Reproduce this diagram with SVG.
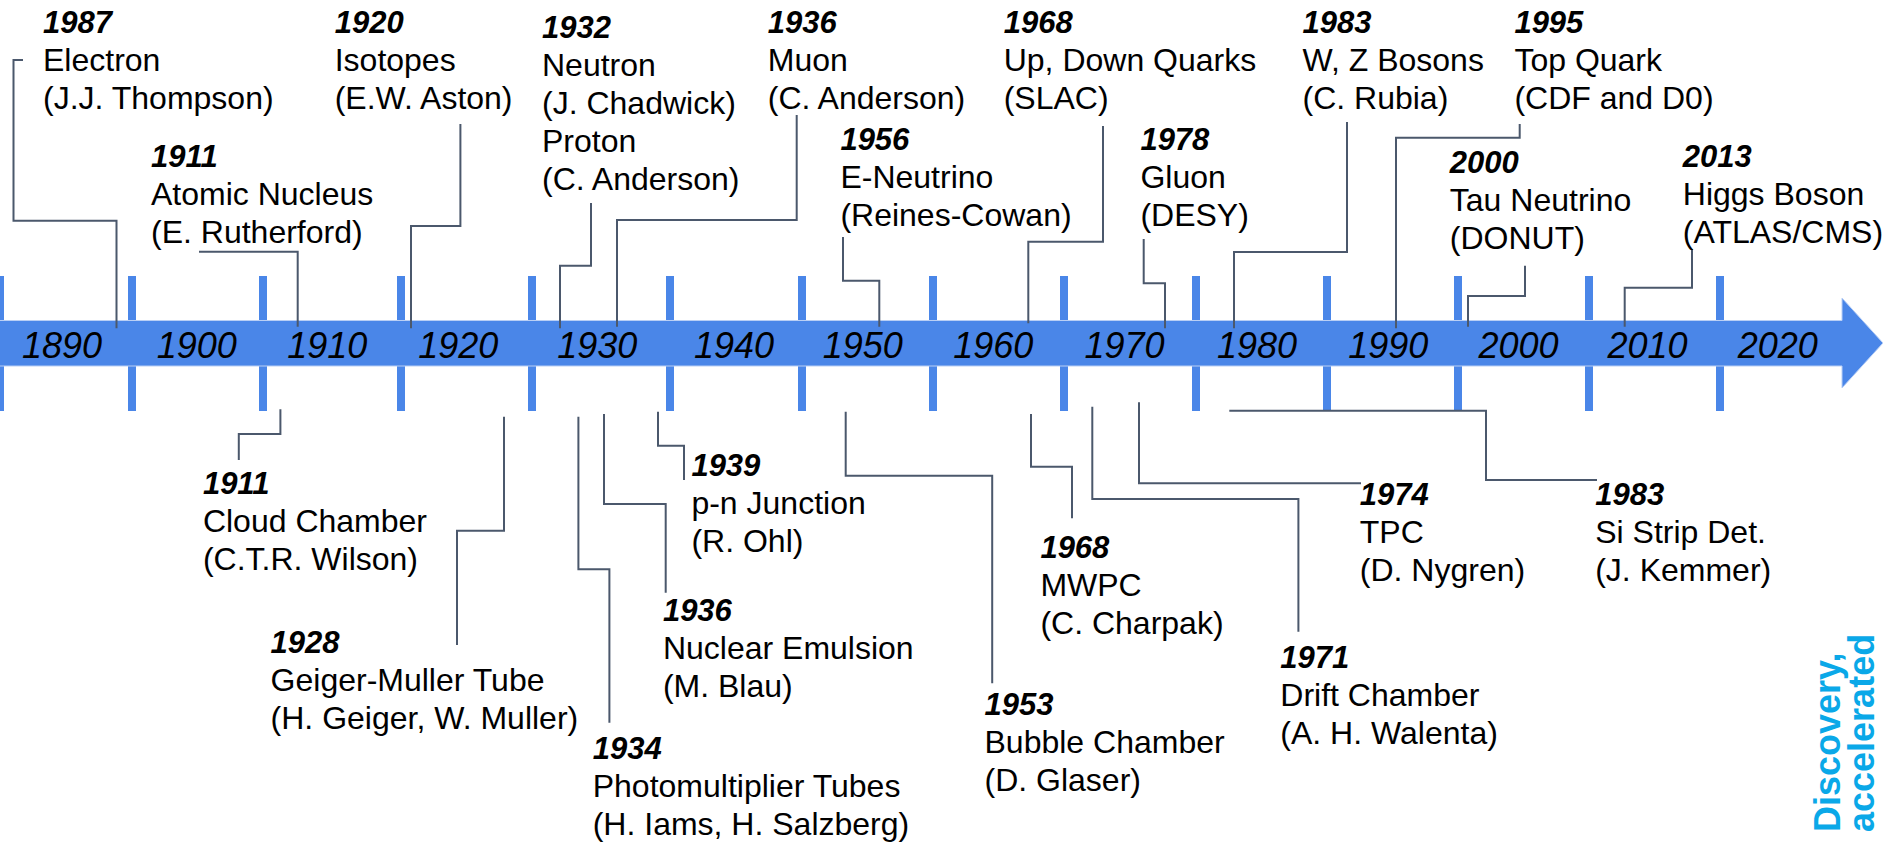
<svg xmlns="http://www.w3.org/2000/svg" width="1883" height="844" viewBox="0 0 1883 844">
<style>
.t{font-family:"Liberation Sans",Arial,sans-serif;font-size:32px;fill:#000}
.y{font-weight:bold;font-style:italic;font-size:31px}
.ax{font-family:"Liberation Sans",Arial,sans-serif;font-size:36px;font-style:italic;fill:#000;text-anchor:middle}
.c{fill:none;stroke:#4b586c;stroke-width:2}
.bar{fill:#4a86e8;stroke:#b9cff5;stroke-width:1}
.tk{fill:#4a86e8}
.brand{font-family:"Liberation Sans",Arial,sans-serif;font-size:36px;font-weight:bold;fill:#0aa8e8}
</style>
<rect width="1883" height="844" fill="#fff"/>
<g id="timeline">
<g id="ticks">
<rect class="tk" x="-4" y="276" width="8" height="135"/>
<rect class="tk" x="128" y="276" width="8" height="135"/>
<rect class="tk" x="259" y="276" width="8" height="135"/>
<rect class="tk" x="397" y="276" width="8" height="135"/>
<rect class="tk" x="528" y="276" width="8" height="135"/>
<rect class="tk" x="666" y="276" width="8" height="135"/>
<rect class="tk" x="798" y="276" width="8" height="135"/>
<rect class="tk" x="929" y="276" width="8" height="135"/>
<rect class="tk" x="1060" y="276" width="8" height="135"/>
<rect class="tk" x="1192" y="276" width="8" height="135"/>
<rect class="tk" x="1323" y="276" width="8" height="135"/>
<rect class="tk" x="1454" y="276" width="8" height="135"/>
<rect class="tk" x="1585" y="276" width="8" height="135"/>
<rect class="tk" x="1716" y="276" width="8" height="135"/>
</g>
<path class="bar" d="M-2,320.5 H1842 V298 L1883,343 L1842,388 V366 H-2 Z"/>
<g id="decades">
<text class="ax" x="62" y="357.5">1890</text>
<text class="ax" x="196.7" y="357.5">1900</text>
<text class="ax" x="327.3" y="357.5">1910</text>
<text class="ax" x="458.3" y="357.5">1920</text>
<text class="ax" x="597.2" y="357.5">1930</text>
<text class="ax" x="734" y="357.5">1940</text>
<text class="ax" x="862.7" y="357.5">1950</text>
<text class="ax" x="993.3" y="357.5">1960</text>
<text class="ax" x="1124.5" y="357.5">1970</text>
<text class="ax" x="1257" y="357.5">1980</text>
<text class="ax" x="1388.3" y="357.5">1990</text>
<text class="ax" x="1518.5" y="357.5">2000</text>
<text class="ax" x="1647.5" y="357.5">2010</text>
<text class="ax" x="1777.7" y="357.5">2020</text>
</g>
</g>
<g id="connectors">
<path class="c" d="M23,60 H13.5 V220.7 H116.5 V328.3"/>
<path class="c" d="M199,251.7 H297.7 V326.7"/>
<path class="c" d="M460.4,124 V226 H411 V328.3"/>
<path class="c" d="M591,203 V265.7 H560 V328.3"/>
<path class="c" d="M796.7,115 V220 H617 V326.7"/>
<path class="c" d="M843,237 V280.7 H879.3 V326.7"/>
<path class="c" d="M1103,126 V241.7 H1028.3 V323.3"/>
<path class="c" d="M1143.7,239 V283.3 H1165 V328.3"/>
<path class="c" d="M1347,122 V252 H1234 V328.3"/>
<path class="c" d="M1519.7,124 V137.7 H1396 V328.3"/>
<path class="c" d="M1525,265.7 V296 H1468 V326.7"/>
<path class="c" d="M1692,249 V287.7 H1624.7 V326.7"/>
<path class="c" d="M280.4,409.3 V434 H238.8 V460"/>
<path class="c" d="M504,416.7 V530.7 H457 V645"/>
<path class="c" d="M578.4,416.7 V569.3 H609.4 V722.7"/>
<path class="c" d="M604,414 V504 H665.7 V592.7"/>
<path class="c" d="M658,411.7 V445.7 H684 V480"/>
<path class="c" d="M845.7,411.7 V475.7 H992.2 V683.3"/>
<path class="c" d="M1031,414 V466.7 H1072 V518.3"/>
<path class="c" d="M1139,402.3 V483.3 H1361"/>
<path class="c" d="M1092.3,406.7 V499 H1298.4 V631.7"/>
<path class="c" d="M1229.3,410.7 H1486 V480 H1597"/>
</g>
<g id="n-electron"><text class="t" x="43" y="33.3"><tspan class="y">1987</tspan><tspan x="43" dy="38">Electron</tspan><tspan x="43" dy="38">(J.J. Thompson)</tspan></text></g>
<g id="n-nucleus"><text class="t" x="151" y="166.7"><tspan class="y">1911</tspan><tspan x="151" dy="38">Atomic Nucleus</tspan><tspan x="151" dy="38">(E. Rutherford)</tspan></text></g>
<g id="n-isotopes"><text class="t" x="334.7" y="33.3"><tspan class="y">1920</tspan><tspan x="334.7" dy="38">Isotopes</tspan><tspan x="334.7" dy="38">(E.W. Aston)</tspan></text></g>
<g id="n-neutron"><text class="t" x="542" y="38.3"><tspan class="y">1932</tspan><tspan x="542" dy="38">Neutron</tspan><tspan x="542" dy="38">(J. Chadwick)</tspan><tspan x="542" dy="38">Proton</tspan><tspan x="542" dy="38">(C. Anderson)</tspan></text></g>
<g id="n-muon"><text class="t" x="767.8" y="33.3"><tspan class="y">1936</tspan><tspan x="767.8" dy="38">Muon</tspan><tspan x="767.8" dy="38">(C. Anderson)</tspan></text></g>
<g id="n-eneutrino"><text class="t" x="840.4" y="150"><tspan class="y">1956</tspan><tspan x="840.4" dy="38">E-Neutrino</tspan><tspan x="840.4" dy="38">(Reines-Cowan)</tspan></text></g>
<g id="n-quarks"><text class="t" x="1003.7" y="33.3"><tspan class="y">1968</tspan><tspan x="1003.7" dy="38">Up, Down Quarks</tspan><tspan x="1003.7" dy="38">(SLAC)</tspan></text></g>
<g id="n-gluon"><text class="t" x="1140.4" y="150"><tspan class="y">1978</tspan><tspan x="1140.4" dy="38">Gluon</tspan><tspan x="1140.4" dy="38">(DESY)</tspan></text></g>
<g id="n-wz"><text class="t" x="1302.5" y="33.3"><tspan class="y">1983</tspan><tspan x="1302.5" dy="38">W, Z Bosons</tspan><tspan x="1302.5" dy="38">(C. Rubia)</tspan></text></g>
<g id="n-top"><text class="t" x="1514.4" y="33.3"><tspan class="y">1995</tspan><tspan x="1514.4" dy="38">Top Quark</tspan><tspan x="1514.4" dy="38">(CDF and D0)</tspan></text></g>
<g id="n-tau"><text class="t" x="1449.8" y="173"><tspan class="y">2000</tspan><tspan x="1449.8" dy="38">Tau Neutrino</tspan><tspan x="1449.8" dy="38">(DONUT)</tspan></text></g>
<g id="n-higgs"><text class="t" x="1682.8" y="166.7"><tspan class="y">2013</tspan><tspan x="1682.8" dy="38">Higgs Boson</tspan><tspan x="1682.8" dy="38">(ATLAS/CMS)</tspan></text></g>
<g id="n-cloud"><text class="t" x="202.9" y="494.3"><tspan class="y">1911</tspan><tspan x="202.9" dy="38">Cloud Chamber</tspan><tspan x="202.9" dy="38">(C.T.R. Wilson)</tspan></text></g>
<g id="n-geiger"><text class="t" x="270.6" y="653.3"><tspan class="y">1928</tspan><tspan x="270.6" dy="38">Geiger-Muller Tube</tspan><tspan x="270.6" dy="38">(H. Geiger, W. Muller)</tspan></text></g>
<g id="n-pmt"><text class="t" x="592.7" y="759"><tspan class="y">1934</tspan><tspan x="592.7" dy="38">Photomultiplier Tubes</tspan><tspan x="592.7" dy="38">(H. Iams, H. Salzberg)</tspan></text></g>
<g id="n-emulsion"><text class="t" x="662.9" y="620.7"><tspan class="y">1936</tspan><tspan x="662.9" dy="38">Nuclear Emulsion</tspan><tspan x="662.9" dy="38">(M. Blau)</tspan></text></g>
<g id="n-pn"><text class="t" x="691.4" y="476"><tspan class="y">1939</tspan><tspan x="691.4" dy="38">p-n Junction</tspan><tspan x="691.4" dy="38">(R. Ohl)</tspan></text></g>
<g id="n-bubble"><text class="t" x="984.5" y="715"><tspan class="y">1953</tspan><tspan x="984.5" dy="38">Bubble Chamber</tspan><tspan x="984.5" dy="38">(D. Glaser)</tspan></text></g>
<g id="n-mwpc"><text class="t" x="1040.4" y="558.3"><tspan class="y">1968</tspan><tspan x="1040.4" dy="38">MWPC</tspan><tspan x="1040.4" dy="38">(C. Charpak)</tspan></text></g>
<g id="n-tpc"><text class="t" x="1359.8" y="505"><tspan class="y">1974</tspan><tspan x="1359.8" dy="38">TPC</tspan><tspan x="1359.8" dy="38">(D. Nygren)</tspan></text></g>
<g id="n-drift"><text class="t" x="1280.3" y="668.3"><tspan class="y">1971</tspan><tspan x="1280.3" dy="38">Drift Chamber</tspan><tspan x="1280.3" dy="38">(A. H. Walenta)</tspan></text></g>
<g id="n-sistrip"><text class="t" x="1595.2" y="505"><tspan class="y">1983</tspan><tspan x="1595.2" dy="38">Si Strip Det.</tspan><tspan x="1595.2" dy="38">(J. Kemmer)</tspan></text></g>
<g id="brand"><text class="brand" transform="rotate(-90)" x="-832" y="1840">Discovery,<tspan x="-832" y="1874">accelerated</tspan></text></g>
</svg>
